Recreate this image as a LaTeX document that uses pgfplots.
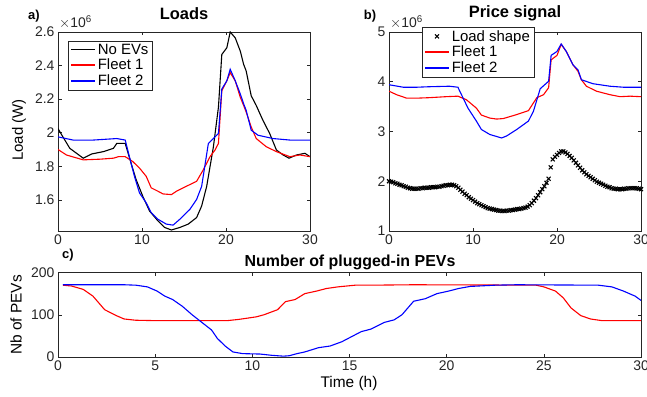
\documentclass[border=0pt]{standalone}
\usepackage{pgfplots}
\pgfplotsset{compat=1.18}
\usepackage{fontspec}
\setmainfont{Liberation Sans}
\definecolor{mgray}{gray}{0.15}
\pgfplotsset{
  mstyle/.style={
    scale only axis,
    tick align=inside,
    axis line style={draw=mgray, line width=0.5bp},
    tick style={draw=mgray, line width=0.5bp},
    major tick length=3.5bp,
    ticklabel style={font=\fontsize{14}{16}\selectfont, text=mgray},
    /pgf/number format/assume math mode=true,
    legend style={draw=mgray, line width=0.5bp, font=\fontsize{15}{16}\selectfont, inner xsep=2bp, inner ysep=1bp, row sep=-0.5bp, text=black},
    legend cell align=left,
    clip=true,
  }
}
\begin{document}
\begin{tikzpicture}[x=1bp,y=1bp]
\useasboundingbox (0,0) rectangle (647,396);

% ---------------- Panel a ----------------
\begin{axis}[mstyle,
  at={(58bp,165bp)}, anchor=south west,
  width=252bp, height=199bp,
  xmin=0, xmax=30, ymin=1.414, ymax=2.6,
  xtick={0,10,20,30}, ytick={1.6,1.8,2,2.2,2.4,2.6},
  yticklabels={1.6,1.8,2,2.2,2.4,2.6},
  legend style={at={(0.04,0.957)}, anchor=north west},
]
\addlegendimage{legend image code/.code={\draw[black, line width=1.5bp] (0bp,0bp) -- (24bp,0bp);}}
\addlegendentry{No EVs}
\addlegendimage{legend image code/.code={\draw[red, line width=1.5bp] (0bp,0bp) -- (24bp,0bp);}}
\addlegendentry{Fleet 1}
\addlegendimage{legend image code/.code={\draw[blue, line width=1.5bp] (0bp,0bp) -- (24bp,0bp);}}
\addlegendentry{Fleet 2}
\addplot[black, line width=1.1bp, forget plot] coordinates {
(0,2.024) (1.4,1.907) (3,1.848) (4,1.873) (5.4,1.887) (6.6,1.907) (7,1.936) (8,1.936)
(8.7,1.818) (9.3,1.72) (10.1,1.62) (10.9,1.533) (11.9,1.474) (12.7,1.435) (13.5,1.42)
(14.5,1.435) (15.5,1.455) (16.5,1.494) (17.1,1.563) (17.7,1.68) (18.5,1.916) (19.1,2.152)
(19.5,2.466) (20.1,2.506) (20.5,2.6) (21.1,2.565) (21.7,2.486) (22.1,2.407) (22.4,2.368)
(23.0,2.22) (23.6,2.162) (24.4,2.073) (25.2,1.995) (26.0,1.897) (26.8,1.867) (27.5,1.848)
(28.4,1.867) (29.4,1.877) (30,1.857)};
\addplot[red, line width=1.1bp, forget plot] coordinates {
(0,1.90) (1.0,1.867) (3.0,1.838) (5.0,1.842) (6.6,1.848) (7.2,1.857) (8,1.857) (8.9,1.828)
(9.7,1.789) (10.5,1.74) (11.1,1.671) (11.9,1.651) (12.5,1.635) (13.5,1.631) (14.1,1.651)
(15.3,1.681) (16.5,1.71) (17.3,1.779) (18.1,1.857) (18.7,1.897) (19.1,1.936) (19.5,2.25)
(20.1,2.309) (20.5,2.358) (21.1,2.309) (21.7,2.211) (22.1,2.162) (22.4,2.123) (23.0,2.034)
(23.6,1.965) (24.8,1.916) (26.0,1.887) (27.6,1.857) (28.8,1.867) (30,1.857)};
\addplot[blue, line width=1.1bp, forget plot] coordinates {
(0,1.975) (1.8,1.956) (4.2,1.956) (7.0,1.965) (8.0,1.956) (8.5,1.857) (9.1,1.74) (9.7,1.641)
(10.5,1.582) (11.1,1.523) (11.9,1.484) (12.9,1.455) (13.7,1.449) (14.5,1.484) (15.7,1.543)
(16.5,1.602) (17.1,1.68) (17.9,1.936) (18.5,1.965) (19.1,1.995) (19.5,2.26) (20.1,2.309)
(20.5,2.378) (21.1,2.309) (21.7,2.231) (22.1,2.172) (22.4,2.133) (23.0,2.015) (23.8,1.985)
(25.6,1.965) (27.6,1.956) (30,1.956)};
\end{axis}

% ---------------- Panel b ----------------
\begin{axis}[mstyle,
  at={(389bp,165bp)}, anchor=south west,
  width=252bp, height=199bp,
  xmin=0, xmax=30, ymin=1, ymax=5,
  xtick={0,10,20,30}, ytick={1,2,3,4,5},
  legend style={at={(0.131,1.025)}, anchor=north west, fill=white},
]
\addlegendimage{legend image code/.code={\draw[black, line width=1.1bp] plot[mark=x, mark size=2.8bp] coordinates {(12bp,0bp)};}}
\addlegendentry{Load shape}
\addlegendimage{legend image code/.code={\draw[red, line width=1.5bp] (0bp,0bp) -- (24bp,0bp);}}
\addlegendentry{Fleet 1}
\addlegendimage{legend image code/.code={\draw[blue, line width=1.5bp] (0bp,0bp) -- (24bp,0bp);}}
\addlegendentry{Fleet 2}
\addplot[black, only marks, mark=x, mark size=2.8bp, line width=1.1bp, forget plot]
coordinates {
(0,2.00) (0.25,1.99) (0.5,1.98) (0.75,1.96) (1,1.95) (1.25,1.93) (1.5,1.92) (1.75,1.90)
(2,1.89) (2.25,1.87) (2.5,1.86) (2.75,1.85) (3,1.85) (3.25,1.85) (3.5,1.85) (3.75,1.86)
(4,1.86) (4.25,1.87) (4.5,1.87) (4.75,1.87) (5,1.88) (5.25,1.88) (5.5,1.88) (5.75,1.89)
(6,1.89) (6.25,1.90) (6.5,1.91) (6.75,1.92) (7,1.92) (7.25,1.93) (7.5,1.93) (7.75,1.92)
(8,1.90) (8.25,1.87) (8.5,1.83) (8.75,1.79) (9,1.75) (9.25,1.72) (9.5,1.68) (9.75,1.65)
(10,1.62) (10.25,1.59) (10.5,1.56) (10.75,1.54) (11,1.52) (11.25,1.50) (11.5,1.48) (11.75,1.46)
(12,1.45) (12.25,1.44) (12.5,1.43) (12.75,1.42) (13,1.41) (13.25,1.41) (13.5,1.40) (13.75,1.40)
(14,1.41) (14.25,1.41) (14.5,1.42) (14.75,1.42) (15,1.43) (15.25,1.44) (15.5,1.44) (15.75,1.45)
(16,1.46) (16.25,1.47) (16.5,1.49) (16.75,1.52) (17,1.56) (17.25,1.61) (17.5,1.66) (17.75,1.72)
(18,1.78) (18.25,1.84) (18.5,1.90) (18.75,1.97) (19,2.05) (19.25,2.28) (19.5,2.44) (19.75,2.49)
(20,2.53) (20.25,2.57) (20.5,2.60) (20.75,2.60) (21,2.58) (21.25,2.55) (21.5,2.51) (21.75,2.47)
(22,2.42) (22.25,2.37) (22.5,2.32) (22.75,2.27) (23,2.22) (23.25,2.18) (23.5,2.14) (23.75,2.11)
(24,2.08) (24.25,2.05) (24.5,2.02) (24.75,1.99) (25,1.97) (25.25,1.95) (25.5,1.93) (25.75,1.91)
(26,1.89) (26.25,1.88) (26.5,1.86) (26.75,1.85) (27,1.85) (27.25,1.84) (27.5,1.84) (27.75,1.84)
(28,1.85) (28.25,1.85) (28.5,1.86) (28.75,1.86) (29,1.86) (29.25,1.86) (29.5,1.86) (29.75,1.85)
(30,1.84)};
\addplot[red, line width=1.1bp, forget plot] coordinates {
(0,3.81) (0.9,3.74) (2.1,3.67) (3.3,3.67) (4.8,3.68) (6.8,3.70) (8.2,3.71) (9.2,3.64)
(10.4,3.47) (11.0,3.33) (12.0,3.27) (12.8,3.25) (13.6,3.26) (15.2,3.34) (16.6,3.42)
(17.6,3.68) (18.4,3.74) (19.0,3.88) (19.3,4.44) (20.0,4.53) (20.5,4.75) (21.1,4.61)
(21.9,4.34) (22.5,4.21) (22.9,4.04) (23.5,3.91) (24.7,3.81) (26.3,3.74) (27.5,3.70)
(28.7,3.71) (30,3.70)};
\addplot[blue, line width=1.1bp, forget plot] coordinates {
(0,3.94) (1.7,3.89) (3.3,3.89) (4.8,3.90) (7.2,3.91) (8.2,3.89) (8.8,3.68) (9.4,3.47)
(10.4,3.21) (11.0,3.04) (12.0,2.94) (13.4,2.87) (14.0,2.91) (15.2,3.04) (16.6,3.21)
(17.2,3.41) (18.0,3.86) (19.0,4.01) (19.3,4.53) (20.0,4.61) (20.5,4.76) (21.1,4.61)
(21.9,4.34) (22.5,4.24) (22.9,4.04) (24.3,3.96) (26.3,3.91) (27.9,3.89) (30,3.89)};
\end{axis}

% ---------------- Panel c ----------------
\begin{axis}[mstyle,
  at={(58bp,39bp)}, anchor=south west,
  width=583bp, height=84.5bp,
  xmin=0, xmax=30, ymin=0, ymax=200,
  xtick={0,5,10,15,20,25,30}, ytick={0,100,200},
]
\addplot[red, line width=1.1bp] coordinates {
(0.25,170) (0.7,168) (1.3,160) (1.8,144) (2.1,128) (2.4,112) (3.0,98) (3.4,90) (4.0,87)
(5.1,86) (6.6,86) (8.7,86) (9.3,89) (10.2,95) (10.6,100) (11.3,112) (11.7,131) (12.2,136)
(12.7,150) (13.3,156) (13.8,162) (14.4,166) (15.3,170) (16.1,170) (18.3,171) (24.6,170)
(25.0,166) (25.6,156) (26.0,140) (26.4,116) (26.9,98) (27.4,90) (28.0,86) (28.9,86) (30,86)};
\addplot[blue, line width=1.1bp] coordinates {
(0.25,171) (3.4,171) (4.0,170) (4.6,166) (5.1,156) (5.5,144) (5.9,136) (6.4,120) (6.9,100)
(7.4,82) (7.9,64) (8.2,44) (8.6,26) (9.0,12) (9.5,8) (10.4,7) (11.0,4) (11.6,2) (11.9,3)
(12.3,8) (12.7,12) (13.4,22) (14.0,26) (14.6,36) (15.1,48) (15.6,60) (16.1,66) (16.8,82)
(17.3,88) (17.7,100) (18.3,132) (18.9,138) (19.5,150) (20.1,156) (20.6,162) (21.2,167)
(22.5,170) (23.6,171) (27.8,170) (28.5,166) (29.1,156) (29.7,144) (30,134)};
\end{axis}

% ---------------- Texts ----------------
\node[font=\bfseries\fontsize{13}{15}\selectfont] at (34,380) {a)};
\node[font=\bfseries\fontsize{16.5}{18}\selectfont] at (184,382) {Loads};
\node[anchor=west, font=\fontsize{14}{16}\selectfont, text=mgray, inner sep=0pt] at (59,374) {$\times$10\textsuperscript{6}};
\node[font=\fontsize{15}{17}\selectfont, rotate=90] at (19,266) {Load (W)};

\node[font=\bfseries\fontsize{13}{15}\selectfont] at (370,380) {b)};
\node[font=\bfseries\fontsize{16.5}{18}\selectfont] at (515,383) {Price signal};
\node[anchor=west, font=\fontsize{14}{16}\selectfont, text=mgray, inner sep=0pt] at (390,374) {$\times$10\textsuperscript{6}};

\node[font=\bfseries\fontsize{13}{15}\selectfont] at (68,141) {c)};
\node[font=\bfseries\fontsize{16}{18}\selectfont] at (350,134) {Number of plugged-in PEVs};
\node[font=\fontsize{15.5}{17}\selectfont] at (349,13) {Time (h)};
\node[font=\fontsize{15.5}{17}\selectfont, rotate=90] at (16,81) {Nb of PEVs};
\end{tikzpicture}
\end{document}
